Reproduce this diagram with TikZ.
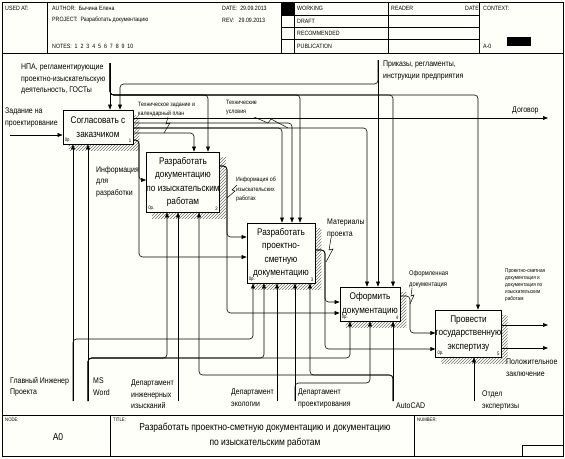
\documentclass[tikz,border=0pt]{standalone}
\usepackage{fontspec}
\setmainfont{Liberation Sans}
\newfontfamily\nf[FakeStretch=0.85]{Liberation Sans}
\usetikzlibrary{arrows.meta,patterns,backgrounds}
\definecolor{bgc}{RGB}{255,255,250}
\newcommand\fB{\nf\fontsize{9.7}{13.5}\selectfont}
\newcommand\fL{\nf\fontsize{8.2}{11.5}\selectfont}
\newcommand\fM{\nf\fontsize{6.8}{11}\selectfont}
\newcommand\fS{\nf\fontsize{6.2}{9.5}\selectfont}
\newcommand\fT{\nf\fontsize{5.5}{7}\selectfont}
\newcommand\fH{\nf\fontsize{6.2}{7}\selectfont}
\newcommand\fN{\nf\fontsize{5}{6}\selectfont}
\begin{document}
\begin{tikzpicture}[x=1pt,y=-1pt,
  fbox/.style={draw,line width=0.7pt,fill=bgc,align=center,inner sep=0pt,font=\fB},
  arr/.style={draw,line width=0.6pt,rounded corners=3.5pt,-{Triangle[length=5pt,width=3.8pt]}},
  lbl/.style={anchor=north west,inner sep=0pt,align=left,font=\fL},
  lblm/.style={anchor=north west,inner sep=0pt,align=left,font=\fM},
  sml/.style={anchor=north west,inner sep=0pt,align=left,font=\fS},
  tny/.style={anchor=north west,inner sep=0pt,align=left,font=\fT},
  hdr/.style={anchor=west,inner sep=0pt,font=\fH},
  num/.style={inner sep=0pt,font=\fN},
  sq/.style={draw,line width=0.5pt},
  frame/.style={draw,line width=0.8pt},
  thinl/.style={draw,line width=0.5pt},
  shad/.style={pattern=north east lines,pattern color=black!55}]
\useasboundingbox (0,0) rectangle (565,458);

% ---------- boxes ----------
\node[fbox,minimum width=70pt,minimum height=34pt] (b1) at (98,127) {Согласовать с\\заказчиком};
\node[fbox,minimum width=70pt,minimum height=60pt] (b2) at (183,182) {Разработать\\документацию\\по изыскательским\\работам};
\node[fbox,minimum width=68pt,minimum height=60pt] (b3) at (281,253) {Разработать\\проектно-\\сметную\\документацию};
\node[fbox,minimum width=60pt,minimum height=34pt] (b4) at (370,304) {Оформить\\документацию};
\node[fbox,minimum width=65pt,minimum height=47pt] (b5) at (468.5,333.5) {Провести\\государственную\\экспертизу};

\foreach \b/\n in {b1/1,b2/2,b3/3,b4/4,b5/5}{
  \node[num,anchor=south west] at ([shift={(2,-1.5)}]\b.south west) {0р.};
  \node[num,anchor=south east] at ([shift={(-2,-1.5)}]\b.south east) {\n};
}

\begin{scope}[on background layer]
  \fill[bgc] (0,0) rectangle (565,458);
  \foreach \b in {b1,b2,b3,b4,b5}
    \fill[shad] ([shift={(6,6)}]\b.north west) rectangle ([shift={(6,6)}]\b.south east);
\end{scope}

% ---------- frame ----------
\draw[frame] (2,2) rectangle (563,456);
\draw[frame] (2,53) -- (563,53);
\draw[frame] (2,415) -- (563,415);
\foreach \x in {47,281,294,388,479} \draw[thinl] (\x,2) -- (\x,53);
\foreach \y in {15,27,39} \draw[thinl] (281,\y) -- (479,\y);
\fill (281,2) rectangle (294,15);
\fill (507,37) rectangle (531,46);
\draw[thinl] (110,415) -- (110,456);
\draw[thinl] (414,415) -- (414,456);
\draw[thinl] (522,456) -- (522,445) -- (563,445);

\node[hdr] (h1) at (5,8) {USED AT:};
\node[hdr] (h2) at (52,8) {AUTHOR:\ \ Бычина Елена};
\node[hdr] (h3) at (222,8) {DATE:\ \ 29.09.2013};
\node[hdr] (h4) at (52,20) {PROJECT:\ \ Разработать документацию};
\node[hdr] (h5) at (222,20) {REV:\ \ \ 29.09.2013};
\node[hdr] (h6) at (52,46) {NOTES:\ \ 1\ \ 2\ \ 3\ \ 4\ \ 5\ \ 6\ \ 7\ \ 8\ \ 9\ \ 10};
\node[hdr] (h7) at (297,8) {WORKING};
\node[hdr] (h8) at (297,21) {DRAFT};
\node[hdr] (h9) at (297,33) {RECOMMENDED};
\node[hdr] (h10) at (297,46) {PUBLICATION};
\node[hdr] (h11) at (391,8) {READER};
\node[hdr] (h12) at (465,8) {DATE};
\node[hdr] (h13) at (483,8) {CONTEXT:};
\node[hdr] (h14) at (483,46) {A-0};
\node[num,anchor=west] (f1) at (5,420) {NODE:};
\node[num,anchor=west] (f2) at (113,420) {TITLE:};
\node[num,anchor=west] (f3) at (417,420) {NUMBER:};
\node[inner sep=0pt,font=\nf\fontsize{10}{12}\selectfont] (f4) at (58,437) {A0};
\node[inner sep=0pt,align=center,font=\nf\fontsize{10}{15}\selectfont] (f5) at (265,435) {Разработать проектно-сметную документацию и документацию\\по изыскательским работам};

% ---------- labels ----------
\node[lbl] (tnpa) at (21,64) {НПА, регламентирующие\\проектно-изыскательскую\\деятельность, ГОСТы};
\node[lbl] (tzad) at (5,108) {Задание на\\проектирование};
\node[lbl] (tinf) at (96,166) {Информация\\для\\разработки};
\node[lbl] (tprik) at (383,61) {Приказы, регламенты,\\инструкции предприятия};
\node[lbl] (tdog) at (512,107) {Договор};
\node[sml] (ttz) at (138,102) {Техническое задание и\\календарный план};
\node[sml] (ttu) at (226,100) {Технические\\условия};
\node[sml] (tiir) at (236,177) {Информация об\\изыскательских\\работах};
\node[lbl] (tmat) at (327,219) {Материалы\\проекта};
\node[lblm] (tofd) at (409,270) {Оформленная\\документация};
\node[tny] (tpsd) at (505,269) {Проектно-сметная\\документация и\\документация по\\изыскательским\\работам};
\node[lbl] (tpol) at (506,359) {Положительное\\заключение};
\node[lbl] (totd) at (482,391) {Отдел\\экспертизы};
\node[lbl] (tacad) at (396,403) {AutoCAD};
\node[lbl] (tdp) at (298,389) {Департамент\\проектирования};
\node[lbl] (tde) at (231,389) {Департамент\\экологии};
\node[lbl] (tdii) at (131,380) {Департамент\\инженерных\\изысканий};
\node[lbl] (tms) at (93,378) {MS\\Word};
\node[lbl] (tgip) at (10,377) {Главный Инженер\\Проекта};

% ---------- boundary coordinates ----------
\coordinate (cnpa) at (110,63);
\coordinate (cprik) at (378,60);
\coordinate (czad) at (10,135);
\coordinate (cdog) at (548,118);
\coordinate (cpsd) at (548,325);
\coordinate (cpol) at (548,348);
\coordinate (cgip) at (73,401);
\coordinate (cms) at (88,401);
\coordinate (cdii) at (178,401);
\coordinate (cde) at (277,401);
\coordinate (cdp) at (295,401);
\coordinate (cacad) at (393,401);
\coordinate (cotd) at (474,401);

% ---------- controls ----------
\draw[arr] (cnpa) -- (cnpa |- b1.north);
\draw[arr] (cnpa) |- (208,95) -- (b2.north -| 208,0);
\draw[arr] (cnpa) |- (300,95) -- (b3.north -| 300,0);
\draw[arr] (cnpa) |- (393,95) -- (b4.north -| 393,0);
\draw[arr] (cnpa) |- (478,95) -- (b5.north -| 478,0);
\draw[arr] (cprik) -- (cprik |- b4.north);
\draw[arr] (cprik) |- (120,84) -- (b1.north -| 120,0);

% ---------- inputs / outputs ----------
\draw[arr] (czad) -- (b1.west |- czad);
\draw[arr] (b1.east |- cdog) -- (cdog);
\draw[arr] (b1.east |- 0,123) -| (b3.north -| 292,0);
\draw[arr] (b1.east |- 0,128) -| (b3.north -| 282,0);
\draw[arr] (b1.east |- 0,128) -| (b4.north -| 367,0);
\draw[arr] (b1.east |- 0,133) -| (b2.north -| 194,0);
\draw[arr] (b1.east |- 0,140) -| (139,180) -- (b2.west |- 0,180);
\draw[arr] (b1.east |- 0,140) -| (139,257) -- (b3.west |- 0,257);
\draw[arr] (b2.east |- 0,166) -| (227,237) -- (b3.west |- 0,237);
\draw[arr] (b2.east |- 0,166) -| (227,313) -- (b4.west |- 0,313);
\draw[arr] (b3.east |- 0,250) -| (325,302) -- (b4.west |- 0,302);
\draw[arr] (b3.east |- 0,250) -| (325,349) -- (b5.west |- 0,349);
\draw[arr] (b4.east |- 0,296) -| (410,333) -- (b5.west |- 0,333);
\draw[arr] (b5.east |- cpsd) -- (cpsd);
\draw[arr] (b5.east |- cpol) -- (cpol);

% ---------- mechanisms ----------
\draw[arr] (cgip) -- (cgip |- b1.south);
\draw[arr] (cgip) |- (253,339) -- (b3.south -| 253,0);
\draw[arr] (cms) -- (cms |- b1.south);
\draw[arr] (cms) |- (167,358) -- (b2.south -| 167,0);
\draw[arr] (cms) |- (264,358) -- (b3.south -| 264,0);
\draw[arr] (cms) |- (350,358) -- (b4.south -| 350,0);
\draw[arr] (cdii) -- (cdii |- b2.south);
\draw[arr] (cde) -- (cde |- b3.south);
\draw[arr] (cdp) -- (cdp |- b3.south);
\draw[arr] (cdp) |- (370,383) -- (b4.south -| 370,0);
\draw[arr] (cacad) -- (cacad |- b4.south);
\draw[arr] (cacad) |- (310,375) -- (b3.south -| 310,0);
\draw[arr] (cacad) |- (199,375) -- (b2.south -| 199,0);
\draw[arr] (cotd) -- (cotd |- b5.south);

% ---------- squiggles ----------
\draw[sq] (168,117) -- (166,124) -- (170,123) -- (164,133);
\draw[sq] (254,117) -- (268,123) -- (271,119) -- (288,128);
\draw[sq] (237,185) -- (232,190) -- (235,191) -- (227,198);
\draw[sq] (331,238) -- (329,250) -- (333,249) -- (326,262);
\draw[sq] (412,288) -- (411,296) -- (414,295) -- (410,304);
\end{tikzpicture}
\end{document}
